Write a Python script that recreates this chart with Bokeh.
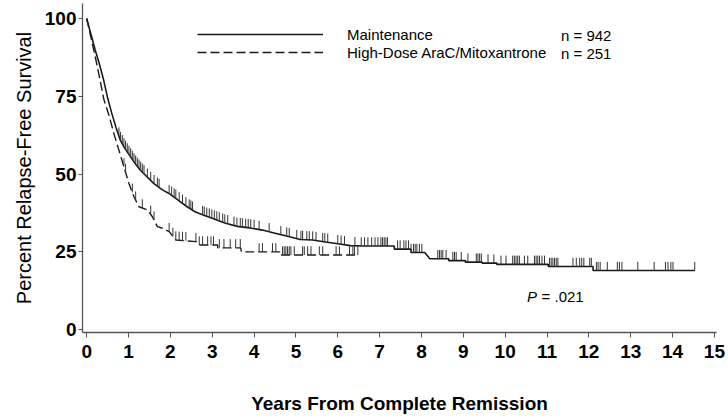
import numpy as np
from bokeh.plotting import figure
from bokeh.models import Range1d, FixedTicker, Legend, LegendItem, Label
from bokeh.embed import file_html
from bokeh.resources import INLINE

# ---- data ----
maint_t = [0, 0.1, 0.2, 0.3, 0.4, 0.5, 0.6, 0.7, 0.8, 0.9, 1.0, 1.15, 1.3, 1.45, 1.6, 1.8,
           2.0, 2.2, 2.4, 2.6, 2.8, 3.0, 3.3, 3.6, 3.9, 4.2, 4.5, 4.8, 5.1, 5.4, 5.7, 6.0,
           6.3, 6.6, 7.35, 7.35, 7.75, 7.75, 8.08, 8.2, 8.65, 8.65, 9.05, 9.05, 9.45, 9.45,
           9.8, 9.8, 11.03, 11.03, 12.1, 12.1, 14.53]
maint_s = [100, 95, 90, 85.5, 80.5, 74.5, 69.5, 65, 61, 58.5, 56.5, 53.5, 51, 49, 47, 45,
           43.5, 41.5, 39.5, 37.8, 36.8, 35.8, 34.3, 33.2, 32.7, 32, 31, 30, 29, 28.8, 28.2, 27.6,
           27.0, 26.9, 26.9, 25.9, 25.9, 24.8, 24.8, 22.8, 22.8, 22.2, 22.2, 21.7, 21.7, 21.4,
           21.4, 21.0, 21.0, 20.3, 20.3, 19.0, 19.0]
maint_censor = [0.77, 0.81, 0.85, 0.89, 0.93, 0.97, 1.01, 1.05, 1.09, 1.13, 1.17, 1.21, 1.25,
                1.29, 1.33, 1.37, 1.45, 1.53, 1.61, 1.69, 1.73, 1.97, 2.03, 2.09, 2.13, 2.21,
                2.29, 2.37, 2.45, 2.49, 2.53, 2.77, 2.81, 2.87, 2.93, 2.99, 3.05, 3.11, 3.17,
                3.25, 3.30, 3.37, 3.52, 3.59, 3.67, 3.72, 3.80, 3.86, 3.92, 4.00, 4.12, 4.36,
                4.64, 4.78, 4.84, 5.02, 5.12, 5.16, 5.26, 5.32, 5.40, 5.48, 5.64, 5.69, 5.76,
                6.00, 6.08, 6.16, 6.41, 6.56, 6.64, 6.72, 6.81, 6.89, 6.96, 7.03, 7.07, 7.11,
                7.15, 7.19, 7.43, 7.49, 7.58, 7.63, 7.69, 7.75, 7.81, 7.85, 7.89, 7.95, 8.01,
                8.39, 8.43, 8.47, 8.51, 8.59, 8.75, 8.79, 8.83, 8.95, 9.11, 9.31, 9.35, 9.39,
                9.43, 9.59, 9.73, 9.90, 10.02, 10.18, 10.22, 10.26, 10.30, 10.34, 10.46, 10.54,
                10.70, 10.74, 10.78, 10.82, 10.88, 10.94, 11.06, 11.10, 11.14, 11.18, 11.22,
                11.26, 11.62, 11.70, 11.78, 11.83, 11.88, 12.02, 12.06, 12.18, 12.22, 12.27,
                12.44, 12.68, 12.73, 12.79, 13.17, 13.56, 13.83, 13.89, 13.96, 14.01, 14.53]

hd_t = [0, 0.1, 0.2, 0.3, 0.41, 0.53, 0.65, 0.77, 0.89, 1.01, 1.13, 1.25, 1.45, 1.57, 1.69,
        1.81, 1.97, 2.13, 2.61, 2.69, 3.13, 3.13, 3.68, 3.7, 4.64, 4.64, 6.5]
hd_s = [100, 94, 88, 81.5, 74, 69, 63, 57.7, 52.3, 47, 42.7, 39.5, 38.5, 36.3, 33.1,
        32.6, 31.5, 28.8, 28.3, 27.2, 27.2, 26.3, 26.3, 25, 25, 24, 24]
hd_censor = [0.89, 0.93, 1.09, 1.17, 1.33, 1.53, 1.61, 1.97, 2.06, 2.13, 2.21, 2.29, 2.37,
             2.61, 2.69, 2.77, 2.89, 2.97, 3.03, 3.17, 3.28, 3.43, 3.56, 3.67, 4.12, 4.20,
             4.44, 4.52, 4.68, 4.72, 4.76, 4.80, 4.84, 4.88, 4.96, 5.16, 5.20, 5.28, 5.36,
             5.56, 5.64, 5.96, 6.04, 6.28, 6.36, 6.40, 6.48]

x_ticks = list(range(0, 16))
y_ticks = [0, 25, 50, 75, 100]
series_names = ["Maintenance", "High-Dose AraC/Mitoxantrone"]
series_n = ["n = 942", "n = 251"]
p_value_label = "= .021"

TICK_FONT = "Liberation Sans, Arial, sans-serif"
TEXT_FONT = "Liberation Sans, Arial, sans-serif"
INK = "#1a1a1a"

p = figure(width=728, height=416, output_backend="svg", toolbar_location=None,
           x_range=Range1d(-0.1, 15.05), y_range=Range1d(-0.9, 104.8),
           min_border_left=82, min_border_right=12, min_border_top=3, min_border_bottom=83)
p.outline_line_color = None
p.grid.visible = False
p.background_fill_color = "white"
p.border_fill_color = "white"

# curves
r_m = p.line(maint_t, maint_s, line_color=INK, line_width=1.6)
r_h = p.line(hd_t, hd_s, line_color=INK, line_width=1.4, line_dash="9 4")

# censor ticks
TL = 2.8
mc = np.array(maint_censor)
mb = np.interp(mc, maint_t, maint_s)
p.segment(x0=mc, y0=mb, x1=mc, y1=mb + TL, line_color="#333333", line_width=1)
hc = np.array(hd_censor)
hb = np.interp(hc, hd_t, hd_s)
p.segment(x0=hc, y0=hb, x1=hc, y1=hb + TL, line_color="#333333", line_width=1)

# axes
for ax in (p.xaxis[0], p.yaxis[0]):
    ax.axis_line_color = "#555555"
    ax.axis_line_width = 1.3
    ax.major_tick_line_color = "#555555"
    ax.major_tick_in = 0
    ax.minor_tick_line_color = None
    ax.major_label_text_font = TICK_FONT
    ax.major_label_text_font_style = "bold"
    ax.major_label_text_font_size = "19px"
    ax.major_label_text_color = "black"

p.xaxis.ticker = FixedTicker(ticks=x_ticks)
p.yaxis.ticker = FixedTicker(ticks=y_ticks)
p.xaxis.major_tick_out = 5
p.xaxis.major_label_standoff = 7
p.yaxis.major_tick_out = 4
p.yaxis.major_label_standoff = 2

p.xaxis.axis_label = "Years From Complete Remission"
p.xaxis.axis_label_text_font = TICK_FONT
p.xaxis.axis_label_text_font_style = "bold"
p.xaxis.axis_label_text_font_size = "19px"
p.xaxis.axis_label_text_color = "black"
p.xaxis.axis_label_standoff = 32

p.yaxis.axis_label = "Percent Relapse-Free Survival"
p.yaxis.axis_label_text_font = TEXT_FONT
p.yaxis.axis_label_text_font_style = "normal"
p.yaxis.axis_label_text_font_size = "20px"
p.yaxis.axis_label_text_color = "black"
p.yaxis.axis_label_standoff = 7

# legend
legend = Legend(items=[LegendItem(label=series_names[0], renderers=[r_m]),
                       LegendItem(label=series_names[1], renderers=[r_h])],
                location=(115, 271), orientation="vertical",
                glyph_width=126, glyph_height=18, label_height=18, label_standoff=24,
                spacing=0, padding=0, margin=0,
                border_line_color=None, background_fill_alpha=0,
                label_text_font=TEXT_FONT, label_text_font_size="15px",
                label_text_color="black")
p.add_layout(legend, "center")

for lab, yv in zip(series_n, [94.55, 88.8]):
    p.add_layout(Label(x=12.54, y=yv, text=lab, text_align="right", text_baseline="middle",
                       text_font=TEXT_FONT, text_font_size="15px", text_color="black"))

p.add_layout(Label(x=10.52, y=10.6, text="P", text_align="left", text_baseline="middle",
                   text_font=TEXT_FONT, text_font_size="15px", text_font_style="italic",
                   text_color="black"))
p.add_layout(Label(x=10.87, y=10.6, text=p_value_label, text_align="left",
                   text_baseline="middle", text_font=TEXT_FONT, text_font_size="15px",
                   text_color="black"))

open("out.html", "w").write(file_html(p, INLINE))
